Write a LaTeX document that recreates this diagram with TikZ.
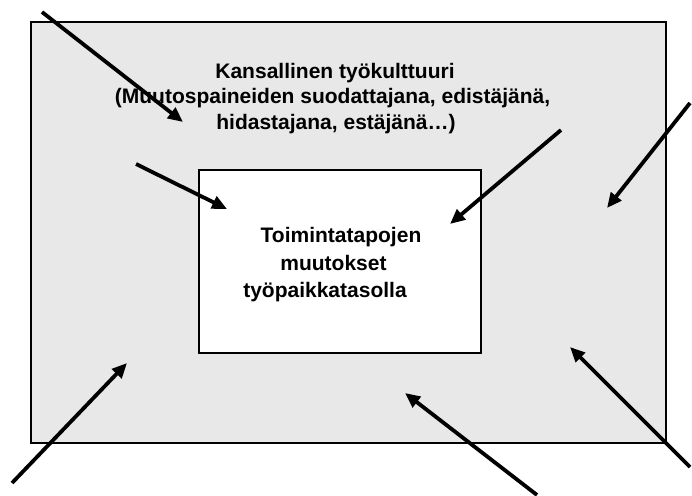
\documentclass[tikz,border=0pt]{standalone}
\usepackage{fontspec}
\setmainfont{Liberation Sans}
\usepackage{tikz}
\usetikzlibrary{arrows.meta}
\definecolor{taustaharmaa}{HTML}{E8E8E8}
\newcommand{\nuoli}{-{Triangle[length=15pt,width=13pt]}}

\begin{document}
\begin{tikzpicture}[x=1pt,y=-1pt,
  teksti/.style={anchor=base,inner sep=0pt,font=\bfseries\fontsize{21}{25}\selectfont},
  laatikko/.style={draw,line width=2pt,inner sep=0pt}]
\useasboundingbox (0,0) rectangle (692,495);
%kansallinen tyokulttuuri
\node[laatikko,fill=taustaharmaa,minimum width=635pt,minimum height=421pt] (kulttuuri) at (348.5,232.5) {};
\node[laatikko,fill=white,minimum width=282pt,minimum height=183pt] (muutos) at (340,261.5) {};
\node[teksti] (k1) at (335,78) {Kansallinen työkulttuuri};
\node[teksti] (k2) at (332.5,103) {(Muutospaineiden suodattajana, edistäjänä,};
\node[teksti] (k3) at (336,129) {hidastajana, estäjänä…)};
\node[teksti] (t1) at (341,242) {Toimintatapojen};
\node[teksti] (t2) at (333.5,270) {muutokset};
\node[teksti] (t3) at (325,297) {työpaikkatasolla};
%muutospaineet
\coordinate (lahto1) at (42,12);   \coordinate (kohde1) at (183,122);
\coordinate (lahto2) at (136,164); \coordinate (kohde2) at (227,209);
\coordinate (lahto3) at (561,130); \coordinate (kohde3) at (450,224);
\coordinate (lahto4) at (690,103); \coordinate (kohde4) at (607,208);
\coordinate (lahto5) at (12,483);  \coordinate (kohde5) at (127,363);
\coordinate (lahto6) at (537,495); \coordinate (kohde6) at (405,393);
\coordinate (lahto7) at (690,467); \coordinate (kohde7) at (570,347);
\draw[line width=3.8pt,\nuoli] (lahto1) -- (kohde1);
\draw[line width=3.8pt,\nuoli] (lahto2) -- (kohde2);
\draw[line width=3.8pt,\nuoli] (lahto3) -- (kohde3);
\draw[line width=3.8pt,\nuoli] (lahto4) -- (kohde4);
\draw[line width=3.8pt,\nuoli] (lahto5) -- (kohde5);
\draw[line width=3.8pt,\nuoli] (lahto6) -- (kohde6);
\draw[line width=3.8pt,\nuoli] (lahto7) -- (kohde7);
\end{tikzpicture}
\end{document}
